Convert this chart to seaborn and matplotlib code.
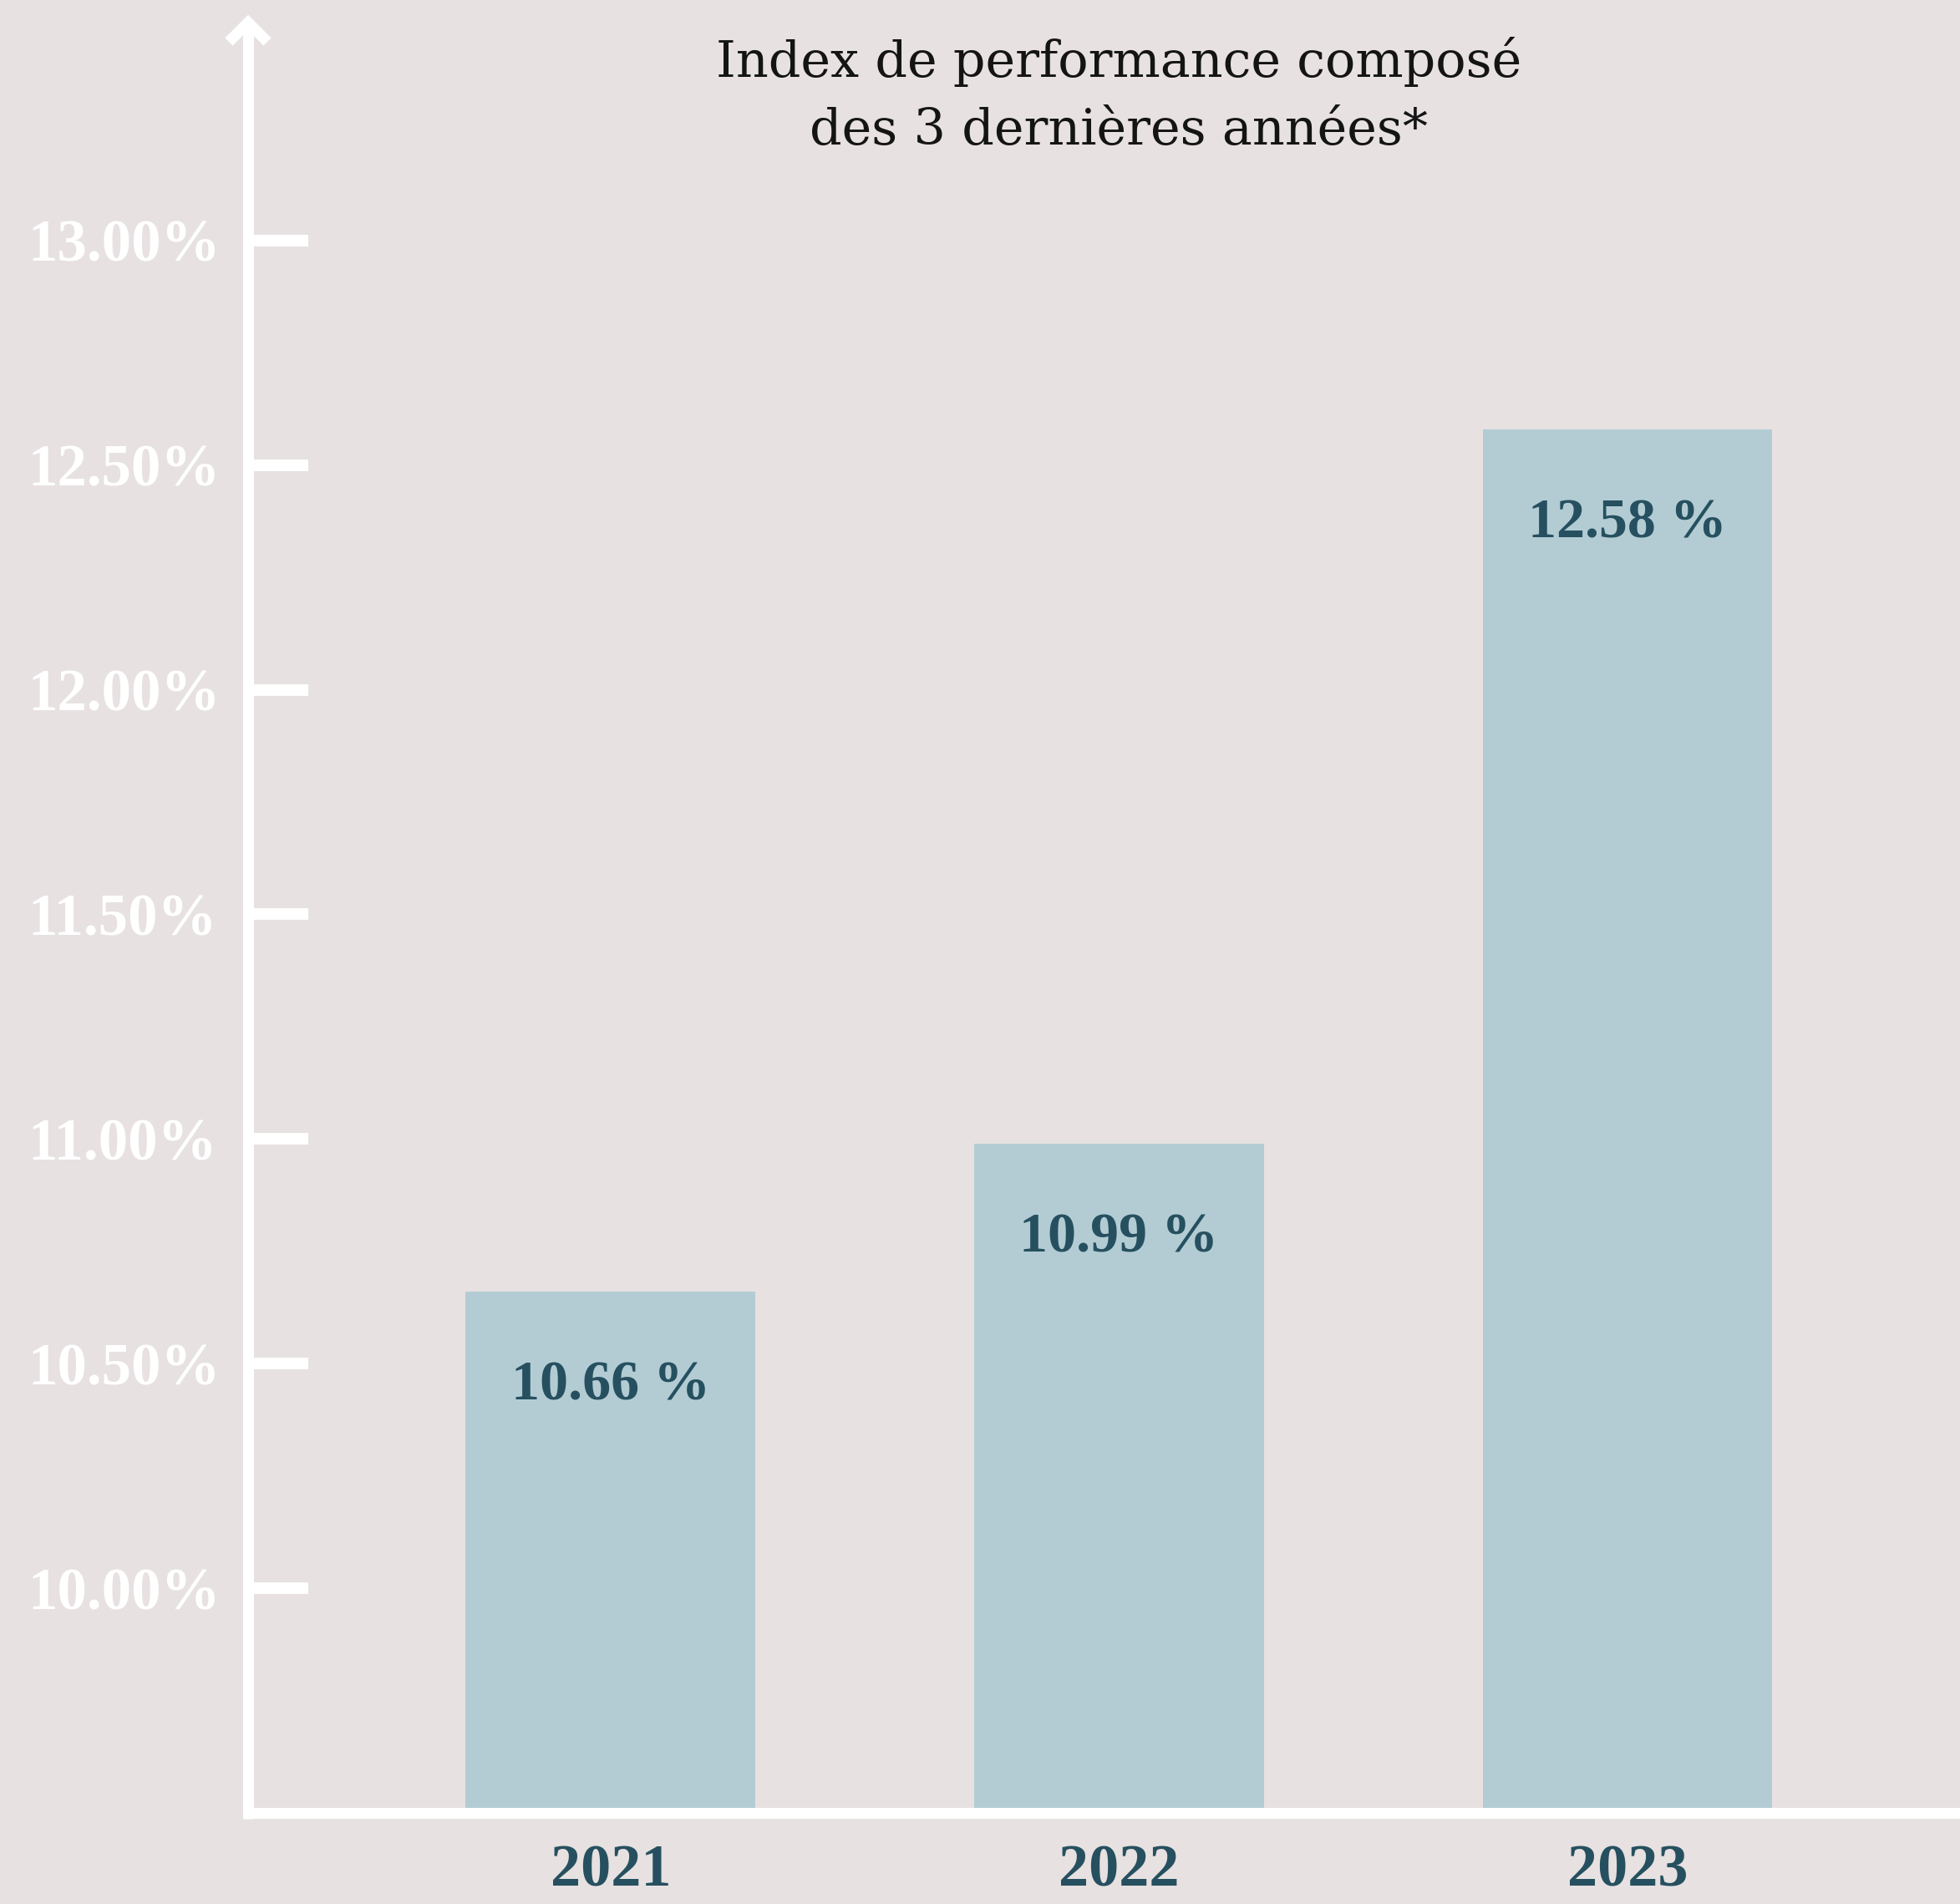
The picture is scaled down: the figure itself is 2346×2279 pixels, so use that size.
import numpy as np
import pandas as pd
import matplotlib
matplotlib.use("Agg")
import matplotlib.pyplot as plt
import seaborn as sns

# Data
years = ["2021", "2022", "2023"]
values = [10.66, 10.99, 12.58]
y_ticks = [10.0, 10.5, 11.0, 11.5, 12.0, 12.5, 13.0]
title = "Index de performance composé\ndes 3 dernières années*"

# Colours
bg = "#E7E1E1"
bar_color = "#B3CCD4"
teal = "#26505F"
axis_white = "#FFFFFF"

sns.set_theme(style="white")
plt.rcParams["font.family"] = ["Liberation Serif", "DejaVu Serif"]

W, H, DPI = 2346, 2279, 100
fig = plt.figure(figsize=(W / DPI, H / DPI), dpi=DPI, facecolor=bg)

# axes placed in pixel terms: left spine at x=297, bottom at y=2170, top vertex at y=27
left_px, bottom_px, top_px = 297, 2170, 27
ax_w_px = W - left_px
ax_h_px = bottom_px - top_px
ax = fig.add_axes([left_px / W, (H - bottom_px) / H, ax_w_px / W, ax_h_px / H])
ax.set_facecolor(bg)

df = pd.DataFrame({"year": years, "value": values})
sns.barplot(data=df, x="year", y="value", color=bar_color, width=0.57,
            saturation=1, linewidth=0, edgecolor=bar_color, ax=ax, zorder=2)

ax.set_xlim(-0.713, 2.654)
ax.set_ylim(9.5, 13.485)

# labels inside the bars
for i, v in enumerate(values):
    ax.text(i, v - 0.21, f"{v:.2f} %", ha="center", va="center",
            fontsize=49, fontweight="bold", color=teal, zorder=3)

# y axis ticks / labels
ax.set_yticks(y_ticks)
ax.set_yticklabels([f"{t:.2f}%" for t in y_ticks])
ax.tick_params(axis="y", direction="in", length=52, width=10, color=axis_white,
               pad=190, labelsize=51, labelcolor=axis_white, left=True)
for lbl in ax.get_yticklabels():
    lbl.set_ha("left")
    lbl.set_fontweight("bold")

# x axis labels
ax.tick_params(axis="x", length=0, pad=27, labelsize=52, labelcolor=teal)
for lbl in ax.get_xticklabels():
    lbl.set_fontweight("bold")
ax.set_xlabel("")
ax.set_ylabel("")

for s in ax.spines.values():
    s.set_visible(False)

# axis lines with chevron arrow heads
lw = 9.4
fx = 1 / ax_w_px
fy = 1 / ax_h_px
vx_right = 1 + 59 * fx
line_kw = dict(color=axis_white, lw=lw, transform=ax.transAxes, clip_on=False,
               zorder=4, solid_capstyle="butt", solid_joinstyle="miter")
ax.plot([0, 0], [-6.5 * fy, 1], **line_kw)
ax.plot([-6.5 * fx, vx_right], [0, 0], **line_kw)
arm = 23
ax.plot([-arm * fx, 0, arm * fx], [1 - arm * fy, 1, 1 - arm * fy], **line_kw)
ax.plot([vx_right - arm * fx, vx_right, vx_right - arm * fx],
        [arm * fy, 0, -arm * fy], **line_kw)

# title
fig.text(1339 / W, 1 - 114 / H, title, ha="center", va="center",
         multialignment="center", fontsize=43.5, color="#141414",
         family=["DejaVu Serif"], linespacing=1.5)

fig.savefig("out.png", dpi=DPI, facecolor=bg)
